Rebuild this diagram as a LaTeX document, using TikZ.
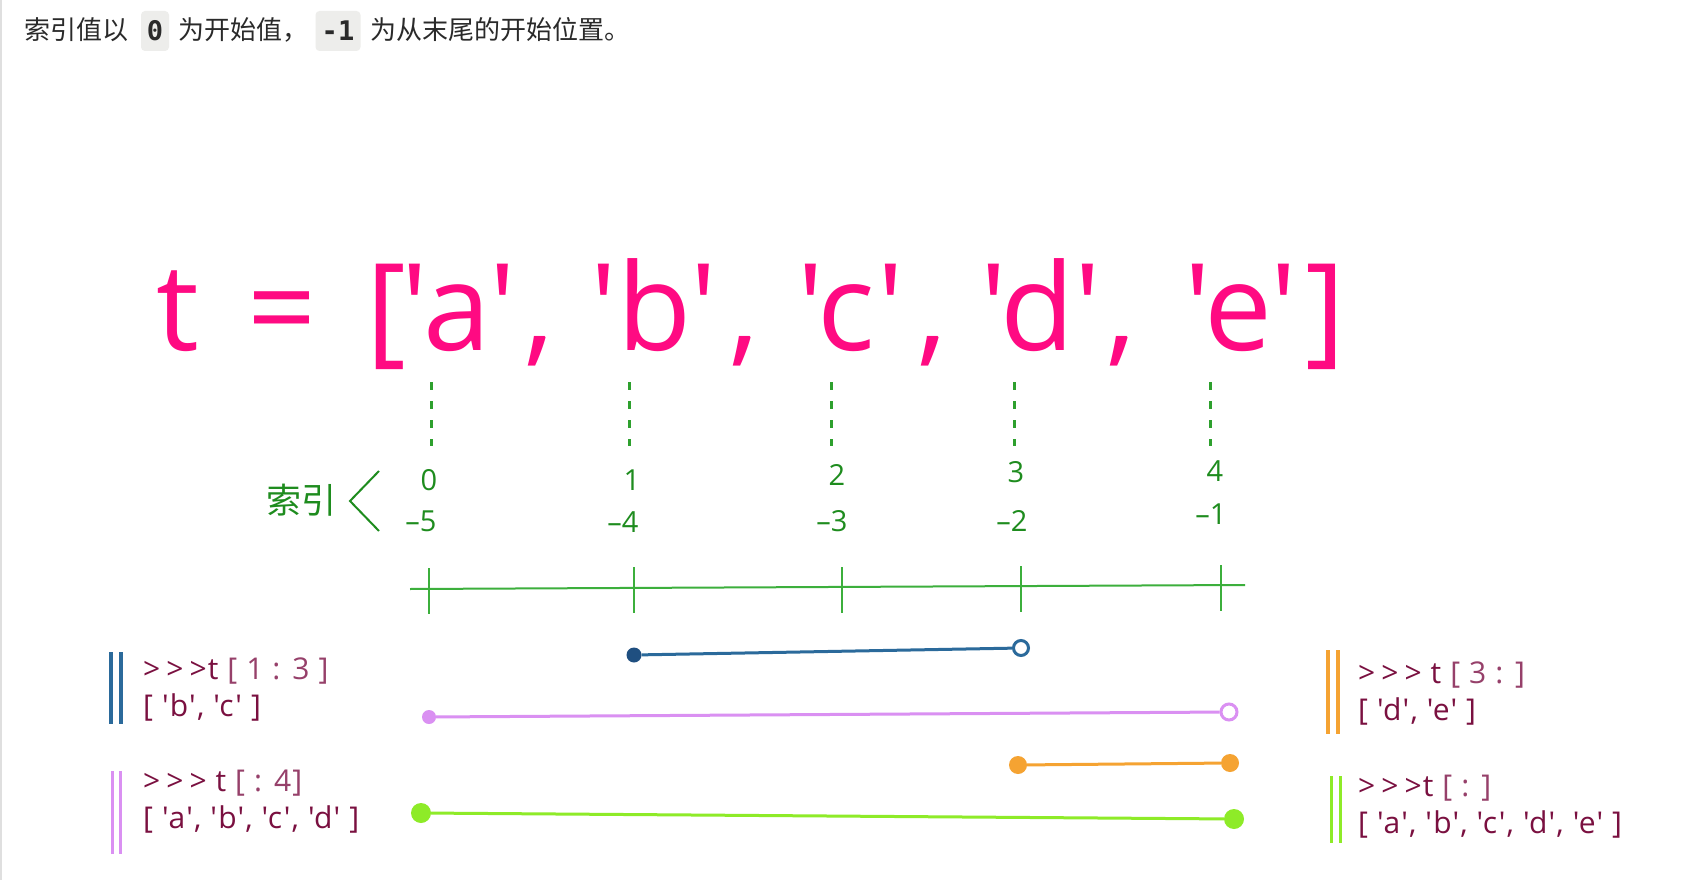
\documentclass[tikz,border=0pt]{standalone}
\usepackage{fontspec}
\setmainfont{Open Sans}[Ligatures=TeXOff]
\newfontfamily\lbl{Open Sans}[Ligatures=TeXOff, LetterSpace=4]
\newfontfamily\cjk{Noto Sans CJK SC}
\newfontfamily\mono{DejaVu Sans Mono}
\definecolor{pinkc}{HTML}{FF0A82}
\definecolor{numgreen}{HTML}{1E8C1E}
\definecolor{axisgreen}{HTML}{3CAF3C}
\definecolor{dashgreen}{HTML}{2EA02E}
\definecolor{bluec}{HTML}{2B6A9B}
\definecolor{bluedot}{HTML}{1F4F80}
\definecolor{violetc}{HTML}{DA90F2}
\definecolor{orangec}{HTML}{F5A332}
\definecolor{limec}{HTML}{8EEB28}
\definecolor{maroon}{HTML}{7A1040}
\definecolor{maroonl}{HTML}{96406A}
\definecolor{hdr}{HTML}{2A2A2A}
\definecolor{codebg}{HTML}{EDEDEB}
\newcommand{\gts}{>\hspace{6pt}>\hspace{6pt}>}
\begin{document}
\begin{tikzpicture}[x=1pt,y=-1pt,
  hdrtext/.style={font=\cjk\fontsize{26}{30}\selectfont, text=hdr, inner sep=0pt, anchor=west},
  codebox/.style={font=\mono\bfseries\fontsize{27}{30}\selectfont, text=hdr, fill=codebg, rounded corners=4pt, minimum height=40pt, inner sep=0pt},
  big/.style={anchor=base, inner sep=0pt, text=pinkc, font=\fontsize{121}{130}\selectfont},
  idx/.style={font=\fontsize{29}{32}\selectfont, text=numgreen, inner sep=0pt},
  guide/.style={draw=dashgreen, line width=3pt, dash pattern=on 8pt off 11pt},
  tick/.style={draw=axisgreen, line width=2pt},
  slicelbl/.style={font=\lbl\fontsize{30}{37}\selectfont, text=maroon, inner sep=0pt, anchor=north west, align=left},
  fdot/.style={circle, inner sep=0pt, minimum size=#1},
  bar/.style={line width=3pt}
]
\useasboundingbox (0,0) rectangle (1690,880);
\fill[white] (0,0) rectangle (1690,880);
\draw[gray!25, line width=1.5pt] (1,0) -- (1,880);

% header
\node[hdrtext] (h1) at (24,30) {索引值以};
\node[codebox, minimum width=28pt] (c0) at (155,31) {0};
\node[hdrtext] (h2) at (178,30) {为开始值，};
\node[codebox, minimum width=45pt] (c1) at (338,31) {-1};
\node[hdrtext] (h3) at (370,30) {为从末尾的开始位置。};

% big list
\node[big] (lt) at (178,350) {t};
\node[big] (leq) at (282,350) {=};
\node[big] (lo) at (386,350) {[};
\node[big] (la) at (459,350) {'a'};
\node[big] (k1) at (539,350) {,};
\node[big] (lb) at (654,350) {'b'};
\node[big] (k2) at (744,350) {,};
\node[big] (lc) at (851,350) {'c'};
\node[big] (k3) at (932,350) {,};
\node[big] (ld) at (1041,350) {'d'};
\node[big] (k4) at (1121,350) {,};
\node[big] (le) at (1241,350) {'e'};
\node[big] (lcl) at (1325,350) {]};

% guides
\foreach \x/\n in {431/0,629/1,831/2,1014/3,1210/4}{
  \coordinate (gt\n) at (\x,382);
  \coordinate (gb\n) at (\x,446);
  \draw[guide] (gt\n) -- (gb\n);
}

% index labels
\node[idx] (p0) at (429,480) {0};
\node[idx] (n0) at (421,521) {–5};
\node[idx] (p1) at (632,480) {1};
\node[idx] (n1) at (623,522) {–4};
\node[idx] (p2) at (837,475) {2};
\node[idx] (n2) at (832,521) {–3};
\node[idx] (p3) at (1016,472) {3};
\node[idx] (n3) at (1012,521) {–2};
\node[idx] (p4) at (1215,471) {4};
\node[idx] (n4) at (1211,514) {–1};

\node[font=\cjk\fontsize{35}{40}\selectfont, text=numgreen, inner sep=0pt] (sy) at (301,500) {索引};
\coordinate (bt) at (379,471);
\coordinate (bm) at (350,501);
\coordinate (bb) at (379,531);
\draw[numgreen, line width=2pt] (bt) -- (bm) -- (bb);

% axis
\coordinate (ax0) at (410,589);
\coordinate (ax1) at (1245,585);
\draw[tick] (ax0) -- (ax1);
\foreach \x/\y in {429/588,634/587,842/587,1021/586,1221/585}{
  \draw[tick] (\x,\y-20) -- (\x,\y+26);
}

% slices
\node[fdot=15pt, fill=bluedot] (b1) at (634,655) {};
\node[fdot=15pt, draw=bluec, line width=3pt, fill=white] (b2) at (1021,648) {};
\draw[bluec, bar] (b1) -- (b2);

\node[fdot=14pt, fill=violetc] (v1) at (429,717) {};
\node[fdot=16pt, draw=violetc, line width=3pt, fill=white] (v2) at (1229,712) {};
\draw[violetc, bar] (v1) -- (v2);

\node[fdot=18pt, fill=orangec] (o1) at (1018,765) {};
\node[fdot=18pt, fill=orangec] (o2) at (1230,763) {};
\draw[orangec, bar] (o1) -- (o2);

\node[fdot=20pt, fill=limec] (g1) at (421,813) {};
\node[fdot=20pt, fill=limec] (g2) at (1234,819) {};
\draw[limec, bar] (g1) -- (g2);

% labels
\draw[bluec, line width=3.5pt] (111,652) -- (111,724) (121,652) -- (121,724);
\node[slicelbl] (l1) at (143,658) {\gts t {\color{maroonl}[ 1 : 3 ]}\\{[} 'b', 'c' ]};

\draw[violetc, line width=3pt] (112,771) -- (112,854) (120,771) -- (120,854);
\node[slicelbl] (l2) at (143,770) {\gts\ t {\color{maroonl}[ : 4]}\\{[} 'a', 'b', 'c', 'd' ]};

\draw[orangec, line width=3.5pt] (1328,650) -- (1328,734) (1338,650) -- (1338,734);
\node[slicelbl] (l3) at (1358,662) {\gts\ t {\color{maroonl}[ 3 : ]}\\{[} 'd', 'e' ]};

\draw[limec, line width=3pt] (1331,776) -- (1331,843) (1340,776) -- (1340,843);
\node[slicelbl] (l4) at (1358,775) {\gts t {\color{maroonl}[ : ]}\\{[} 'a', 'b', 'c', 'd', 'e' ]};
\end{tikzpicture}
\end{document}
